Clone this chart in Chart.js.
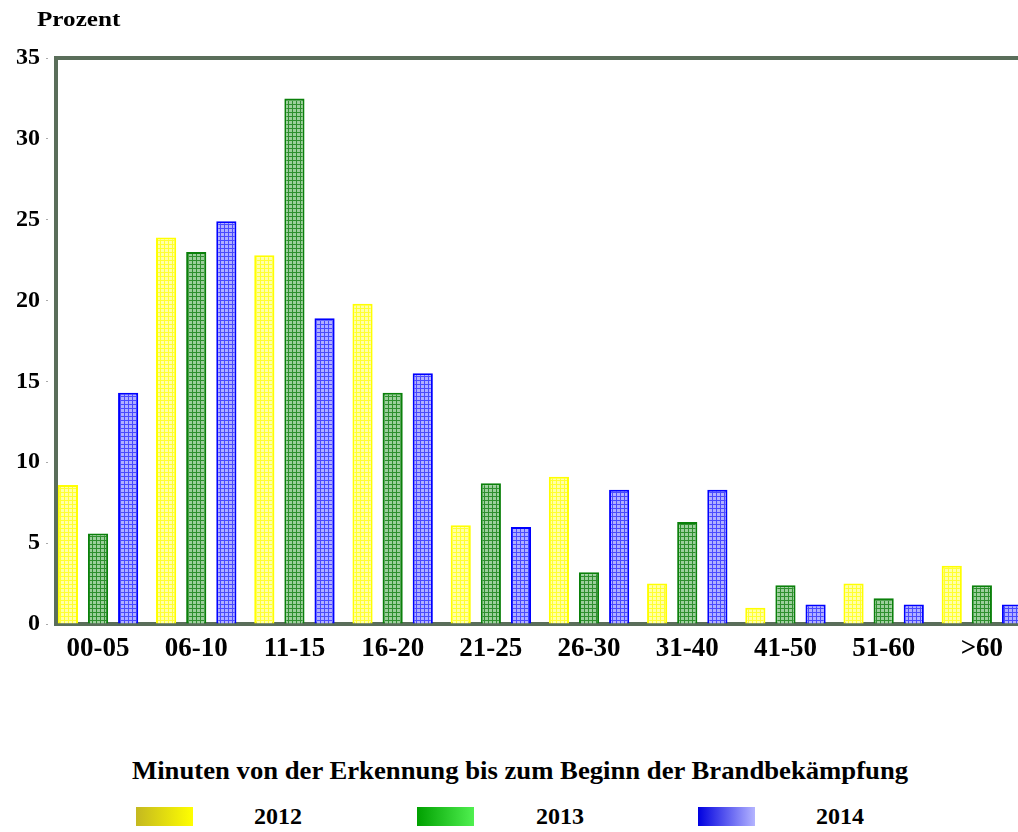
<!DOCTYPE html>
<html>
<head>
<meta charset="utf-8">
<script src="https://cdn.jsdelivr.net/npm/chart.js@4/dist/chart.umd.min.js"></script>
<style>
  body { margin: 0; overflow: hidden; background: #fff; font-family: 'Liberation Serif', serif; font-weight: bold; color: #000; }
  #wrap { position: absolute; left: 0; top: 0; width: 1040px; height: 700px; }
  .txt { position: absolute; white-space: nowrap; transform-origin: 0 0; }
  .sw { position: absolute; width: 57px; height: 19px; top: 807px; }
</style>
</head>
<body>
<div id="wrap"><canvas id="c"></canvas></div>
<div class="txt" id="yunit" style="left:37px; top:8px; font-size:20px;">Prozent</div>
<div class="txt" id="xtitle" style="top:756px; font-size:26px;">Minuten von der Erkennung bis zum Beginn der Brandbekämpfung</div>
<div class="sw" style="left:136px; background:linear-gradient(to right,#c4b820,#ffff00);"></div>
<div class="sw" style="left:417px; background:linear-gradient(to right,#00a000,#50f050);"></div>
<div class="sw" style="left:698px; background:linear-gradient(to right,#0000e0,#b4b4ff);"></div>
<div class="txt" style="left:254px; top:803px; font-size:24px;">2012</div>
<div class="txt" style="left:536px; top:803px; font-size:24px;">2013</div>
<div class="txt" style="left:816px; top:803px; font-size:24px;">2014</div>
<script>
const categories = ['00-05', '06-10', '11-15', '16-20', '21-25', '26-30', '31-40', '41-50', '51-60', '>60'];
const years = ['2012', '2013', '2014'];
const values2012 = [8.6, 23.9, 22.8, 19.8, 6.1, 9.1, 2.5, 1.0, 2.5, 3.6];
const values2013 = [5.6, 23.0, 32.5, 14.3, 8.7, 3.2, 6.3, 2.4, 1.6, 2.4];
const values2014 = [14.3, 24.9, 18.9, 15.5, 6.0, 8.3, 8.3, 1.2, 1.2, 1.2];
const yTicks = [0, 5, 10, 15, 20, 25, 30, 35];

// fit the html texts to the width they have in the picture
function fitWidth(el, w) {
  el.style.transform = 'scaleX(' + (w / el.offsetWidth) + ')';
}
fitWidth(document.getElementById('yunit'), 83);
const xt = document.getElementById('xtitle');
fitWidth(xt, 776);
xt.style.left = '132px';

const ctx = document.getElementById('c').getContext('2d');

function grid(bg, line) {
  const c = document.createElement('canvas');
  c.width = c.height = 4;
  const g = c.getContext('2d');
  g.fillStyle = bg; g.fillRect(0, 0, 4, 4);
  g.fillStyle = line; g.fillRect(0, 0, 4, 1); g.fillRect(0, 0, 1, 4);
  return ctx.createPattern(c, 'repeat');
}

const toPoints = arr => arr.map((v, i) => ({ x: i, y: v }));
const frame = '#5a6e5a';
const serif = 'Liberation Serif';

new Chart(ctx, {
  type: 'bar',
  data: {
    datasets: [
      { label: years[0], data: toPoints(values2012), backgroundColor: grid('#ffffa8', '#ffff30'), borderColor: '#ffff00', borderWidth: 2 },
      { label: years[1], data: toPoints(values2013), backgroundColor: grid('#9ccf9c', '#2f8f2f'), borderColor: '#0a800a', borderWidth: 2 },
      { label: years[2], data: toPoints(values2014), backgroundColor: grid('#b0b0ff', '#4a4aff'), borderColor: '#0000ff', borderWidth: 2 }
    ]
  },
  options: {
    responsive: true,
    maintainAspectRatio: false,
    animation: false,
    categoryPercentage: 0.92,
    barPercentage: 0.67,
    layout: { padding: { top: 58, left: 0, right: 0, bottom: 0 } },
    plugins: { legend: { display: false }, tooltip: { enabled: false } },
    scales: {
      x: {
        type: 'linear',
        bounds: 'data',
        offset: false,
        min: -0.428,
        max: 9.592,
        z: 1,
        afterBuildTicks: s => { s.ticks = categories.map((c, i) => ({ value: i })); },
        afterFit: s => { s.height = 76; },
        grid: { display: false, drawTicks: false, offset: false },
        border: { color: frame, width: 4 },
        ticks: {
          padding: 9,
          color: '#000',
          font: { family: serif, size: 27, weight: 'bold' },
          callback: v => categories[v] ?? ''
        }
      },
      x2: {
        type: 'linear',
        position: 'top',
        offset: false,
        min: 0,
        max: 1,
        z: 1,
        grid: { display: false, drawTicks: false },
        border: { color: frame, width: 4 },
        ticks: { display: false }
      },
      y: {
        min: 0,
        max: 35,
        z: 1,
        afterBuildTicks: s => { s.ticks = yTicks.map(v => ({ value: v })); },
        afterFit: s => { s.width = 56; },
        grid: { drawOnChartArea: false, tickLength: 10, tickColor: '#aaaaaa', tickBorderDash: [2, 10] },
        border: { color: frame, width: 4 },
        ticks: {
          padding: 6,
          color: '#000',
          font: { family: serif, size: 24, weight: 'bold' }
        }
      }
    }
  }
});
</script>
</body>
</html>
